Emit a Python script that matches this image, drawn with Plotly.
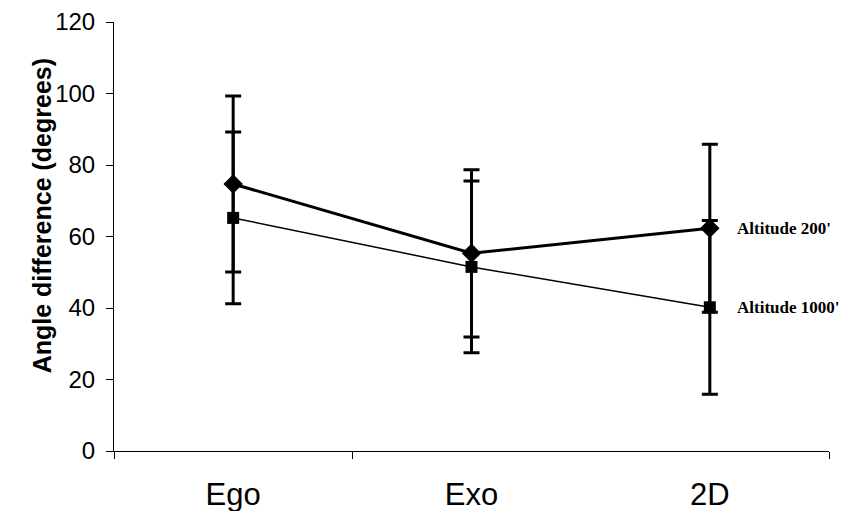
import plotly.graph_objects as go

categories = ["Ego", "Exo", "2D"]
cat_pos = [0, 1, 2]
boundary_ticks = [-0.5, 0.5, 2.5]

alt200_mean = [74.7, 55.3, 62.3]
alt200_err = [24.6, 23.4, 23.5]
alt1000_mean = [65.2, 51.5, 40.2]
alt1000_err = [24.0, 24.0, 24.3]

y_ticks = [0, 20, 40, 60, 80, 100, 120]

sans = "Liberation Sans, Arial, sans-serif"
serif = "Liberation Serif, Times New Roman, serif"

fig = go.Figure()

fig.add_trace(go.Scatter(
    x=cat_pos, y=alt1000_mean, mode="lines+markers", name="Altitude 1000'",
    line=dict(color="black", width=1.5),
    marker=dict(symbol="square", size=12, color="black"),
    error_y=dict(type="data", array=alt1000_err, visible=True,
                 color="black", thickness=3, width=8),
))
fig.add_trace(go.Scatter(
    x=cat_pos, y=alt200_mean, mode="lines+markers", name="Altitude 200'",
    line=dict(color="black", width=3),
    marker=dict(symbol="diamond", size=15, color="black"),
    error_y=dict(type="data", array=alt200_err, visible=True,
                 color="black", thickness=3, width=8),
))

# invisible trace to activate boundary-tick axis
fig.add_trace(go.Scatter(x=boundary_ticks, y=[None] * 3, xaxis="x2",
                         mode="markers", showlegend=False, hoverinfo="skip"))

fig.add_annotation(x=cat_pos[2], y=alt200_mean[2], xref="x", yref="y",
                   text="Altitude 200'", showarrow=False, xanchor="left",
                   xshift=25, font=dict(family=serif, size=17, color="black",
                                        weight="bold"))
fig.add_annotation(x=cat_pos[2], y=alt1000_mean[2], xref="x", yref="y",
                   text="Altitude 1000'", showarrow=False, xanchor="left",
                   xshift=25, font=dict(family=serif, size=17, color="black",
                                        weight="bold"))

fig.add_annotation(x=0, y=0.547, xref="paper", yref="paper",
                   text="<b>Angle difference (degrees)</b>", textangle=-90,
                   showarrow=False, xanchor="center", yanchor="middle",
                   xshift=-72, font=dict(family=sans, size=25, color="black"))

fig.update_layout(
    width=845, height=503,
    margin=dict(l=106, r=24, t=14, b=60),
    paper_bgcolor="white", plot_bgcolor="white",
    showlegend=False,
    xaxis=dict(range=[-0.5, 2.5], tickvals=cat_pos, ticktext=categories,
               showgrid=False, zeroline=False, showline=True,
               linecolor="black", linewidth=1, ticks="",
               ticklabelstandoff=16, automargin=False,
               tickfont=dict(family=sans, size=31, color="black")),
    xaxis2=dict(range=[-0.5, 2.5], overlaying="x", side="bottom",
                tickvals=boundary_ticks, ticks="outside", ticklen=7,
                tickcolor="black", tickwidth=1, showticklabels=False,
                showgrid=False, zeroline=False, showline=False,
                automargin=False),
    yaxis=dict(range=[0, 120], tickvals=y_ticks, showgrid=False,
               zeroline=False, showline=True, linecolor="black", linewidth=1,
               ticks="outside", ticklen=7, tickcolor="black", tickwidth=1,
               ticklabelstandoff=6, automargin=False,
               tickfont=dict(family=sans, size=24, color="black")),
)

fig.write_html("out.html")
